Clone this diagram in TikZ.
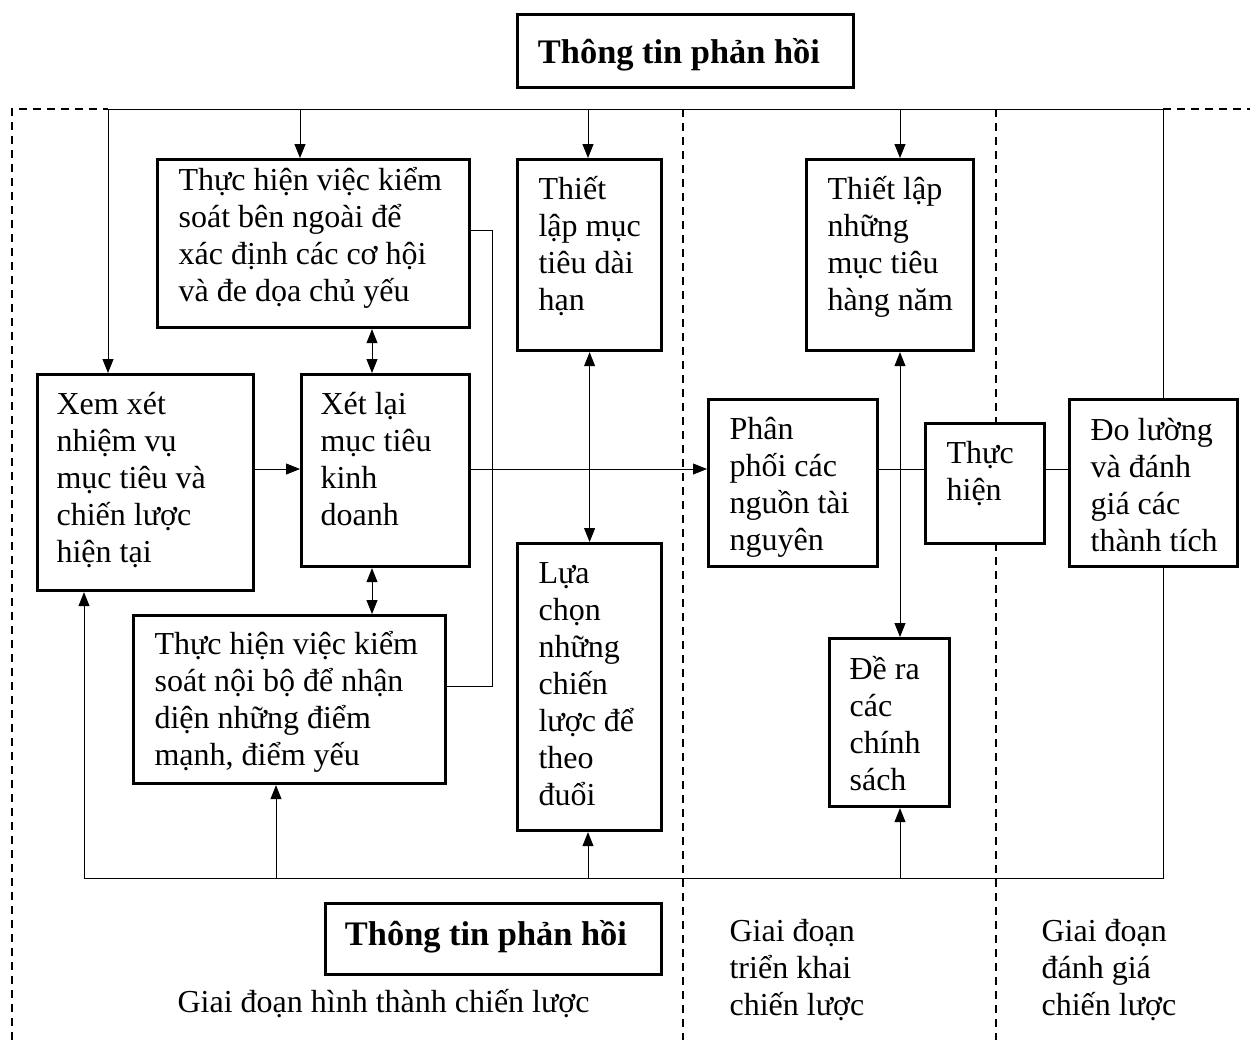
\documentclass[tikz,border=0pt]{standalone}
\usepackage{fontspec}
\setmainfont{Liberation Serif}
\usetikzlibrary{arrows.meta}
\pgfdeclarelayer{bg}
\pgfsetlayers{bg,main}
% fixed height for the first line of every text block
\newcommand\firstline{\rule{0pt}{16pt}}
% empty framed box given by its corners (x1,y1) (x2,y2)
\newcommand\mkbox[5]{\node[box, minimum width={(#4-#2)*0.5pt}, minimum height={(#5-#3)*0.5pt}] (#1) at (#2,#3) {};}

\begin{document}
\begin{tikzpicture}[x=0.5pt,y=-0.5pt,
  line width=1.6pt,
  box/.style={draw, fill=white, line width=1.6pt, inner sep=0pt, anchor=north west},
  txt/.style={align=left, inner sep=0pt, anchor=north west, font=\fontsize{16}{18.5}\selectfont},
  one/.style={inner sep=0pt, anchor=base west, font=\fontsize{16}{18.5}\selectfont},
  title/.style={inner sep=0pt, anchor=base, font=\fontsize{17.2}{20}\selectfont\bfseries},
  phase/.style={draw, dash pattern=on 4pt off 3pt, line width=1.3pt},
  arr/.style={-{Triangle[length=7pt,width=5.5pt]}},
  darr/.style={{Triangle[length=7pt,width=5.5pt]}-{Triangle[length=7pt,width=5.5pt]}}
]
\useasboundingbox (0,0) rectangle (1250,1040);

% ---- boxes ----
\mkbox{fbtop}{516}{13}{852}{86}
\mkbox{ext}{156}{158}{468}{326}
\mkbox{lt}{516}{158}{660}{349}
\mkbox{ann}{805}{158}{972}{349}
\mkbox{rev}{36}{373}{252}{589}
\mkbox{recon}{300}{373}{468}{565}
\mkbox{alloc}{707}{398}{876}{565}
\mkbox{impl}{924}{422}{1043}{542}
\mkbox{meas}{1068}{398}{1236}{565}
\mkbox{sel}{516}{542}{660}{829}
\mkbox{int}{132}{614}{444}{782}
\mkbox{pol}{828}{637}{948}{805}
\mkbox{fbbot}{324}{902}{660}{973}

% ---- texts ----
\node[title] (fbtop-t) at (679,63) {Thông tin phản hồi};
\node[title] (fbbot-t) at (486,945) {Thông tin phản hồi};
\node[txt] (ext-t) at (177,157) {\firstline Thực hiện việc kiểm\\soát bên ngoài để\\xác định các cơ hội\\và đe dọa chủ yếu};
\node[txt] (lt-t) at (537,166) {\firstline Thiết\\lập mục\\tiêu dài\\hạn};
\node[txt] (ann-t) at (826,166) {\firstline Thiết lập\\những\\mục tiêu\\hàng năm};
\node[txt] (rev-t) at (55,381) {\firstline Xem xét\\nhiệm vụ\\mục tiêu và\\chiến lược\\hiện tại};
\node[txt] (recon-t) at (319,381) {\firstline Xét lại\\mục tiêu\\kinh\\doanh};
\node[txt] (alloc-t) at (728,406) {\firstline Phân\\phối các\\nguồn tài\\nguyên};
\node[txt] (impl-t) at (945,430) {\firstline Thực\\hiện};
\node[txt] (meas-t) at (1089,407) {\firstline Đo lường\\và đánh\\giá các\\thành tích};
\node[txt] (sel-t) at (537,550) {\firstline Lựa\\chọn\\những\\chiến\\lược để\\theo\\đuổi};
\node[txt] (int-t) at (153,621) {\firstline Thực hiện việc kiểm\\soát nội bộ để nhận\\diện những điểm\\mạnh, điểm yếu};
\node[txt] (pol-t) at (848,646) {\firstline Đề ra\\các\\chính\\sách};
\node[one] (ph1) at (176,1012) {Giai đoạn hình thành chiến lược};
\node[txt] (ph2) at (728,908) {\firstline Giai đoạn\\triển khai\\chiến lược};
\node[txt] (ph3) at (1040,908) {\firstline Giai đoạn\\đánh giá\\chiến lược};

% ---- phase borders ----
\begin{pgfonlayer}{bg}
\draw[phase] (12,1040) -- (12,109) -- (108,109);
\draw[phase] (1163,109) -- (1250,109);
\draw[phase] (683,109) -- (683,1040);
\draw[phase] (996,109) -- (996,1040);
\end{pgfonlayer}

% ---- feedback loop ----
\coordinate (tl) at (108,109);
\coordinate (tr) at (1163,109);
\coordinate (br) at (1163,878);
\coordinate (bl) at (84,878);
\draw (tl) -- (tr) -- (tr |- meas.north);
\draw (meas.south -| tr) -- (br) -- (bl);

\coordinate (t1) at (300,109);
\coordinate (t2) at (588,109);
\coordinate (t3) at (900,109);
\draw[arr] (tl) -- (tl |- rev.north);
\draw[arr] (t1) -- (t1 |- ext.north);
\draw[arr] (t2) -- (t2 |- lt.north);
\draw[arr] (t3) -- (t3 |- ann.north);

\coordinate (b1) at (276,878);
\coordinate (b2) at (588,878);
\coordinate (b3) at (900,878);
\draw[arr] (bl) -- (bl |- rev.south);
\draw[arr] (b1) -- (b1 |- int.south);
\draw[arr] (b2) -- (b2 |- sel.south);
\draw[arr] (b3) -- (b3 |- pol.south);

% ---- main flow ----
\coordinate (hy) at (0,469);
\coordinate (vx) at (372,0);
\coordinate (ax) at (900,0);
\coordinate (ey) at (0,230);
\coordinate (iy) at (0,686);
\coordinate (lx) at (492,0);
\draw[arr] (rev.east |- hy) -- (recon.west |- hy);
\draw[darr] (ext.south -| vx) -- (recon.north -| vx);
\draw[darr] (recon.south -| vx) -- (int.north -| vx);
\draw (ext.east |- ey) -| (lx |- iy) -- (int.east |- iy);
\draw[arr] (recon.east |- hy) -- (alloc.west |- hy);
\draw[darr] (lt.south) -- (sel.north);
\draw (alloc.east |- hy) -- (impl.west |- hy);
\draw (impl.east |- hy) -- (meas.west |- hy);
\draw[darr] (ann.south -| ax) -- (pol.north -| ax);
\end{tikzpicture}
\end{document}
